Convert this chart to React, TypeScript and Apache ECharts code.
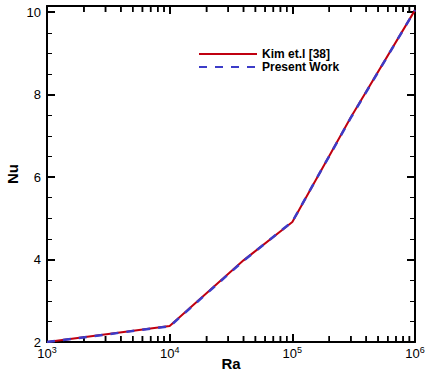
import React, { useEffect, useRef } from "react";
import * as echarts from "echarts";

const raValues = [1e3, 1e4, 4e4, 1e5, 3e5, 1e6];
const kimNu = [2.0, 2.39, 3.98, 4.91, 7.45, 10.05];
const presentNu = [2.0, 2.38, 3.97, 4.92, 7.44, 10.05];
const decades = [1e3, 1e4, 1e5];
const minorMultipliers = [2, 3, 4, 5, 6, 7, 8, 9];
const seriesNames = ["Kim et.l [38]", "Present Work"];

const Y_MIN = 2;
const Y_MAX = 10.15;
const FONT = "Liberation Sans, Arial, sans-serif";

export default function App() {
  const ref = useRef<HTMLDivElement>(null);
  useEffect(() => {
    if (!ref.current) return;
    const chart = echarts.init(ref.current, undefined, { renderer: "svg" });

    const minorData: number[][] = [];
    decades.forEach((d) => minorMultipliers.forEach((m) => minorData.push([d * m, Y_MIN])));

    const axisLine = { show: true, onZero: false, lineStyle: { color: "#000", width: 2 } };
    const xLabel = {
      margin: 3,
      color: "#000",
      fontFamily: FONT,
      formatter: (v: number) => {
        const e = Math.round(Math.log10(v));
        return `{b|10}{s|${e}}`;
      },
      rich: {
        b: { fontSize: 13, fontFamily: FONT, color: "#000" },
        s: { fontSize: 9, fontFamily: FONT, color: "#000", padding: [0, 0, 7, 0] },
      },
    };
    const majorTick = { show: true, inside: true, length: 8, lineStyle: { color: "#000", width: 2 } };
    const yMinor = { show: true, splitNumber: 4, length: 5, lineStyle: { color: "#000", width: 1 } };

    chart.setOption({
      animation: false,
      backgroundColor: "#fff",
      grid: { left: 47, right: 12, top: 6, bottom: 32, containLabel: false, outerBoundsMode: "none" },
      legend: {
        data: seriesNames,
        orient: "vertical",
        left: 193,
        top: 43,
        itemWidth: 58,
        itemHeight: 14,
        itemGap: 1,
        itemStyle: { opacity: 0 },
        textStyle: { fontFamily: FONT, fontSize: 12, fontWeight: "bold", color: "#000" },
      },
      xAxis: [
        {
          type: "log",
          logBase: 10,
          min: 1e3,
          max: 1e6,
          position: "bottom",
          name: "Ra",
          nameLocation: "middle",
          nameGap: 14,
          nameMoveOverlap: false,
          nameTextStyle: { fontFamily: FONT, fontSize: 15, fontWeight: "bold", color: "#000" },
          axisLine,
          axisTick: majorTick,
          minorTick: { show: false },
          splitLine: { show: false },
          axisLabel: xLabel,
        },
        {
          type: "log",
          logBase: 10,
          min: 1e3,
          max: 1e6,
          position: "top",
          axisLine,
          axisTick: majorTick,
          minorTick: { show: false },
          splitLine: { show: false },
          axisLabel: { show: false },
        },
      ],
      yAxis: [
        {
          type: "value",
          min: Y_MIN,
          max: Y_MAX,
          interval: 2,
          position: "left",
          name: "Nu",
          nameLocation: "middle",
          nameGap: 27,
          nameMoveOverlap: false,
          nameRotate: 90,
          nameTextStyle: { fontFamily: FONT, fontSize: 15, fontWeight: "bold", color: "#000" },
          axisLine,
          axisTick: majorTick,
          minorTick: yMinor,
          splitLine: { show: false },
          axisLabel: {
            margin: 6,
            color: "#000",
            fontFamily: FONT,
            fontSize: 13,
            formatter: (v: number) => (Math.abs(v - Math.round(v)) < 1e-6 ? String(Math.round(v)) : ""),
          },
        },
        {
          type: "value",
          min: Y_MIN,
          max: Y_MAX,
          interval: 2,
          position: "right",
          axisLine,
          axisTick: majorTick,
          minorTick: yMinor,
          splitLine: { show: false },
          axisLabel: { show: false },
        },
      ],
      series: [
        {
          type: "custom",
          name: "minor",
          xAxisIndex: 0,
          yAxisIndex: 0,
          clip: false,
          data: minorData,
          renderItem: (params: any, api: any) => {
            const b = api.coord([api.value(0), Y_MIN]);
            const t = api.coord([api.value(0), Y_MAX]);
            const style = { stroke: "#000", lineWidth: 1.5, fill: "none" };
            return {
              type: "group",
              children: [
                { type: "line", shape: { x1: b[0], y1: b[1], x2: b[0], y2: b[1] - 6 }, style },
                { type: "line", shape: { x1: t[0], y1: t[1], x2: t[0], y2: t[1] + 6 }, style },
              ],
            };
          },
          z: 2,
        },
        {
          type: "line",
          name: seriesNames[0],
          data: raValues.map((r, i) => [r, kimNu[i]]),
          symbol: "none",
          lineStyle: { color: "#c00010", width: 2 },
          itemStyle: { color: "#c00010" },
          z: 3,
        },
        {
          type: "line",
          name: seriesNames[1],
          data: raValues.map((r, i) => [r, presentNu[i]]),
          symbol: "none",
          lineStyle: { color: "#3c3cc8", width: 2.5, type: [8, 8] },
          itemStyle: { color: "#3c3cc8" },
          z: 4,
        },
      ],
    });

    // the same minor log ticks as overlay graphics, placed through the axis scale
    const elements: any[] = [];
    minorData.forEach((pt) => {
      const b = chart.convertToPixel({ xAxisIndex: 0, yAxisIndex: 0 }, [pt[0], Y_MIN]) as number[];
      const t = chart.convertToPixel({ xAxisIndex: 0, yAxisIndex: 0 }, [pt[0], Y_MAX]) as number[];
      if (!b || !t) return;
      const style = { stroke: "#000", lineWidth: 1.5 };
      elements.push({ type: "line", shape: { x1: b[0], y1: b[1], x2: b[0], y2: b[1] - 6 }, style });
      elements.push({ type: "line", shape: { x1: t[0], y1: t[1], x2: t[0], y2: t[1] + 6 }, style });
    });
    chart.setOption({ graphic: { elements } });

    return () => chart.dispose();
  }, []);
  return (
    <div
      ref={ref}
      style={{ position: "fixed", left: 0, top: 0, width: 427, height: 374, background: "#fff" }}
    />
  );
}
